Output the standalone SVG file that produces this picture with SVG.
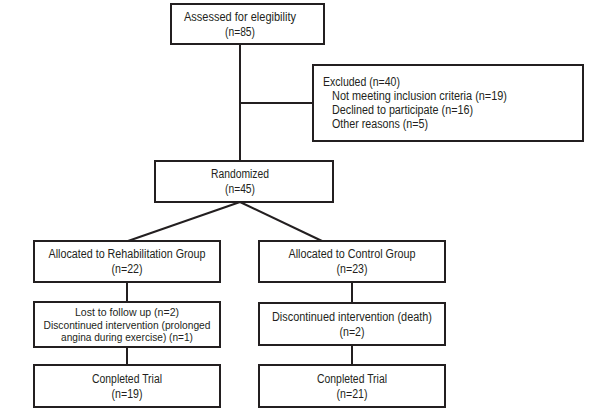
<svg xmlns="http://www.w3.org/2000/svg" width="600" height="418" viewBox="0 0 600 418">
<style>
.box{fill:#fff;stroke:#231f20;stroke-width:2}
.ln{fill:none;stroke:#231f20;stroke-width:2}
text{font-family:"Liberation Sans",Arial,sans-serif;font-size:12px;fill:#231f20}
.c{text-anchor:middle}
.s{font-size:10.8px}
</style>
<rect width="600" height="418" fill="#fff"/>
<g id="connectors">
<line class="ln" x1="240" y1="44" x2="240" y2="161"/>
<line class="ln" x1="240" y1="103" x2="313" y2="103"/>
<line class="ln" x1="240" y1="202" x2="128" y2="241"/>
<line class="ln" x1="240" y1="202" x2="322" y2="241"/>
<line class="ln" x1="127" y1="282" x2="127" y2="302"/>
<line class="ln" x1="127" y1="347" x2="127" y2="365"/>
<line class="ln" x1="352" y1="282" x2="352" y2="303"/>
<line class="ln" x1="352" y1="345" x2="352" y2="365"/>
</g>
<g id="assessed">
<rect class="box" x="171" y="4" width="153" height="40"/>
<text class="c" x="240" y="21" textLength="112" lengthAdjust="spacingAndGlyphs">Assessed for elegibility</text>
<text class="c" x="240" y="36" textLength="30" lengthAdjust="spacingAndGlyphs">(n=85)</text>
</g>
<g id="excluded">
<rect class="box" x="313" y="65" width="270" height="76"/>
<text x="323" y="86" textLength="77" lengthAdjust="spacingAndGlyphs">Excluded (n=40)</text>
<text x="332" y="100" textLength="175" lengthAdjust="spacingAndGlyphs">Not meeting inclusion criteria (n=19)</text>
<text x="332" y="114" textLength="141" lengthAdjust="spacingAndGlyphs">Declined to participate (n=16)</text>
<text x="332" y="128" textLength="96" lengthAdjust="spacingAndGlyphs">Other reasons (n=5)</text>
</g>
<g id="randomized">
<rect class="box" x="155" y="161" width="178" height="41"/>
<text class="c" x="240" y="178" textLength="58" lengthAdjust="spacingAndGlyphs">Randomized</text>
<text class="c" x="240" y="193" textLength="30" lengthAdjust="spacingAndGlyphs">(n=45)</text>
</g>
<g id="alloc-rehab">
<rect class="box" x="34" y="241" width="186" height="41"/>
<text class="c" x="127" y="258" textLength="157" lengthAdjust="spacingAndGlyphs">Allocated to Rehabilitation Group</text>
<text class="c" x="127" y="273" textLength="31" lengthAdjust="spacingAndGlyphs">(n=22)</text>
</g>
<g id="lost-rehab">
<rect class="box" x="34" y="302" width="186" height="45"/>
<text class="c s" x="127" y="316" textLength="104" lengthAdjust="spacingAndGlyphs">Lost to follow up (n=2)</text>
<text class="c s" x="127" y="328.5" textLength="167" lengthAdjust="spacingAndGlyphs">Discontinued intervention (prolonged</text>
<text class="c s" x="127" y="341" textLength="132" lengthAdjust="spacingAndGlyphs">angina during exercise) (n=1)</text>
</g>
<g id="completed-rehab">
<rect class="box" x="34" y="365" width="186" height="42"/>
<text class="c" x="127" y="383" textLength="70" lengthAdjust="spacingAndGlyphs">Conpleted Trial</text>
<text class="c" x="127" y="398" textLength="31" lengthAdjust="spacingAndGlyphs">(n=19)</text>
</g>
<g id="alloc-control">
<rect class="box" x="259" y="241" width="186" height="41"/>
<text class="c" x="352" y="258" textLength="127" lengthAdjust="spacingAndGlyphs">Allocated to Control Group</text>
<text class="c" x="352" y="273" textLength="31" lengthAdjust="spacingAndGlyphs">(n=23)</text>
</g>
<g id="disc-control">
<rect class="box" x="259" y="303" width="186" height="42"/>
<text class="c" x="352" y="321" textLength="160" lengthAdjust="spacingAndGlyphs">Discontinued intervention (death)</text>
<text class="c" x="352" y="336" textLength="25" lengthAdjust="spacingAndGlyphs">(n=2)</text>
</g>
<g id="completed-control">
<rect class="box" x="259" y="365" width="186" height="42"/>
<text class="c" x="352" y="383" textLength="70" lengthAdjust="spacingAndGlyphs">Conpleted Trial</text>
<text class="c" x="352" y="398" textLength="31" lengthAdjust="spacingAndGlyphs">(n=21)</text>
</g>
</svg>
